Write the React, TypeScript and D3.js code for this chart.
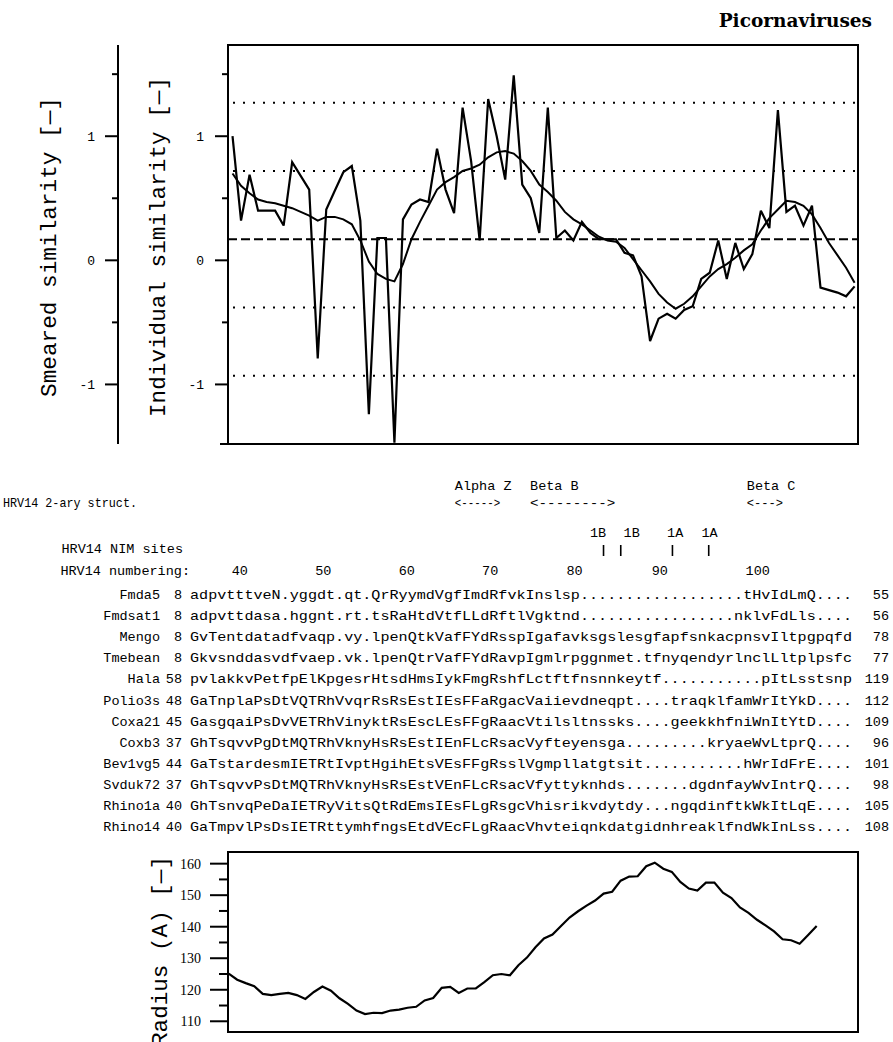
import React, { useEffect, useRef } from "react";
import * as d3 from "d3";

// individual similarity, one value per alignment position
const individual = [
  1.0, 0.32, 0.69, 0.4, 0.4, 0.4, 0.28, 0.79, 0.68, 0.57,
  -0.79, 0.41, 0.56, 0.71, 0.76, 0.32, -1.24, 0.18, 0.18, -1.47,
  0.33, 0.45, 0.49, 0.47, 0.9, 0.57, 0.38, 1.23, 0.8, 0.16,
  1.3, 1.0, 0.65, 1.49, 0.61, 0.5, 0.22, 1.23, 0.18, 0.24,
  0.16, 0.31, 0.22, 0.17, 0.17, 0.17, 0.06, 0.04, -0.13, -0.65,
  -0.47, -0.43, -0.47, -0.4, -0.37, -0.15, -0.1, 0.16, -0.15, 0.14,
  -0.07, 0.05, 0.4, 0.26, 1.21, 0.39, 0.44, 0.28, 0.44, -0.22,
  -0.24, -0.26, -0.29, -0.21,
];

// smeared similarity
const smeared = [
  0.7, 0.6, 0.54, 0.49, 0.47, 0.46, 0.44, 0.42, 0.39, 0.36,
  0.32, 0.35, 0.35, 0.33, 0.29, 0.16, -0.01, -0.11, -0.15, -0.17,
  -0.03, 0.17, 0.31, 0.44, 0.57, 0.63, 0.67, 0.72, 0.74, 0.77,
  0.83, 0.87, 0.88, 0.86, 0.8, 0.72, 0.61, 0.55, 0.48, 0.39,
  0.33, 0.29, 0.24, 0.19, 0.16, 0.15, 0.1, 0.01, -0.08, -0.17,
  -0.27, -0.34, -0.39, -0.35, -0.29, -0.21, -0.13, -0.07, -0.03, 0.02,
  0.08, 0.13, 0.24, 0.34, 0.41, 0.48, 0.47, 0.44, 0.37, 0.26,
  0.14, 0.04, -0.06, -0.18,
];

// radius (A), starts half a position before the similarity profile
const radius = [
  125.1, 123.2, 122.1, 121.1, 118.7, 118.3, 118.7, 119.0, 118.3, 117.1,
  119.3, 121.0, 119.7, 117.3, 115.5, 113.4, 112.3, 112.7, 112.6, 113.4,
  113.7, 114.3, 114.6, 116.6, 117.4, 120.6, 120.9, 119.0, 120.4, 120.4,
  122.4, 124.6, 125.0, 124.6, 127.8, 130.2, 133.5, 136.3, 137.5, 140.2,
  142.9, 144.9, 146.7, 148.3, 150.5, 151.1, 154.6, 155.9, 156.0, 159.2,
  160.3, 158.4, 157.4, 154.2, 152.1, 151.5, 154.0, 154.0, 150.8, 149.1,
  146.1, 144.4, 142.2, 140.4, 138.5, 136.0, 135.7, 134.6, 137.4, 140.2,
];
const radiusFirst = -0.45;

const simTicks = [-1, 0, 1];
const simMinor = [-0.5, 0.5, 1.5];
const simMean = 0.17;
const simBands = [1.27, 0.72, -0.38, -0.93, -1.48];
const radiusTicks = [110, 120, 130, 140, 150, 160];
const radiusMinor = [115, 125, 135, 145, 155];

const seqNames = ["Fmda5", "Fmdsat1", "Mengo", "Tmebean", "Hala", "Polio3s", "Coxa21", "Coxb3", "Bev1vg5", "Svduk72", "Rhino1a", "Rhino14"];
const seqStart = [8, 8, 8, 8, 58, 48, 45, 37, 44, 37, 40, 40];
const seqEnd = [55, 56, 78, 77, 119, 112, 109, 96, 101, 98, 105, 108];
const sequences = [
  "adpvtttveN.yggdt.qt.QrRyymdVgfImdRfvkInslsp" + ".".repeat(18) + "tHvIdLmQ....",
  "adpvttdasa.hggnt.rt.tsRaHtdVtfLLdRftlVgktnd" + ".".repeat(17) + "nklvFdLls....",
  "GvTentdatadfvaqp.vy.lpenQtkVafFYdRsspIgafavksgslesgfapfsnkacpnsvIltpgpqfd",
  "Gkvsnddasvdfvaep.vk.lpenQtrVafFYdRavpIgmlrpggnmet.tfnyqendyrlnclLltplpsfc",
  "pvlakkvPetfpElKpgesrHtsdHmsIykFmgRshfLctftfnsnnkeytf" + ".".repeat(11) + "pItLsstsnp",
  "GaTnplaPsDtVQTRhVvqrRsRsEstIEsFFaRgacVaiievdneqpt....traqklfamWrItYkD....",
  "GasgqaiPsDvVETRhVinyktRsEscLEsFFgRaacVtilsltnssks....geekkhfniWnItYtD....",
  "GhTsqvvPgDtMQTRhVknyHsRsEstIEnFLcRsacVyfteyensga" + ".".repeat(9) + "kryaeWvLtprQ....",
  "GaTstardesmIETRtIvptHgihEtsVEsFFgRsslVgmpllatgtsit" + ".".repeat(11) + "hWrIdFrE....",
  "GhTsqvvPsDtMQTRhVknyHsRsEstVEnFLcRsacVfyttyknhds" + ".".repeat(7) + "dgdnfayWvIntrQ....",
  "GhTsnvqPeDaIETRyVitsQtRdEmsIEsFLgRsgcVhisrikvdytdy...ngqdinftkWkItLqE....",
  "GaTmpvlPsDsIETRttymhfngsEtdVEcFLgRaacVhvteiqnkdatgidnhreaklfndWkInLss....",
];

const numbering = [40, 50, 60, 70, 80, 90, 100];
const numberingCols = [5.5, 14.7, 23.9, 33.1, 42.4, 51.8, 62.6];

const structLabels = ["Alpha Z", "Beta B", "Beta C"];
const structArrows = ["<----->", "<-------->", "<--->"];
const structCols = [29.2, 37.5, 61.4];
const structLen = [5, 9.4, 4];

const nimLabels = ["1B", "1B", "1A", "1A"];
const nimLabelCols = [45.0, 48.7, 53.5, 57.3];
const nimSiteCols = [45.6, 47.5, 53.2, 57.2];

const mono = "'Liberation Mono', 'DejaVu Sans Mono', monospace";

export default function App() {
  const ref = useRef<SVGSVGElement>(null);

  useEffect(() => {
    const svg = d3.select(ref.current);
    svg.selectAll("*").remove();

    svg.append("rect").attr("width", 893).attr("height", 1042).attr("fill", "#fff");

    svg.append("text")
      .attr("x", 872).attr("y", 27).attr("text-anchor", "end")
      .attr("font-family", "'DejaVu Serif', serif").attr("font-weight", "bold")
      .attr("font-size", 18.5).text("Picornaviruses");

    // ---- similarity chart
    const top = { left: 228, right: 858, top: 45, bottom: 444 };
    const x = d3.scaleLinear().domain([-0.53, 73.4]).range([top.left, top.right]);
    const y = d3.scaleLinear().domain([-1.48, 1.735]).range([top.bottom, top.top]);

    svg.append("clipPath").attr("id", "clipTop").append("rect")
      .attr("x", top.left).attr("y", top.top - 2)
      .attr("width", top.right - top.left).attr("height", top.bottom - top.top + 4);

    const g = svg.append("g");

    g.selectAll("line.band").data(simBands).join("line")
      .attr("class", "band")
      .attr("x1", top.left + 5).attr("x2", top.right - 3)
      .attr("y1", (d) => y(d)).attr("y2", (d) => y(d))
      .attr("stroke", "#000").attr("stroke-width", 2).attr("stroke-dasharray", "2 8");

    g.append("line")
      .attr("x1", top.left).attr("x2", top.right)
      .attr("y1", y(simMean)).attr("y2", y(simMean))
      .attr("stroke", "#000").attr("stroke-width", 2).attr("stroke-dasharray", "9 4");

    const line = d3.line<number>().x((d, i) => x(i)).y((d) => y(d));

    g.append("path").datum(smeared).attr("d", line)
      .attr("clip-path", "url(#clipTop)")
      .attr("fill", "none").attr("stroke", "#000").attr("stroke-width", 2);

    g.append("path").datum(individual).attr("d", line)
      .attr("clip-path", "url(#clipTop)")
      .attr("fill", "none").attr("stroke", "#000").attr("stroke-width", 2.2)
      .attr("stroke-linejoin", "miter").attr("stroke-miterlimit", 3);

    g.append("rect")
      .attr("x", top.left).attr("y", top.top)
      .attr("width", top.right - top.left).attr("height", top.bottom - top.top)
      .attr("fill", "none").attr("stroke", "#000").attr("stroke-width", 2);
    g.append("line").attr("x1", top.left - 8).attr("x2", top.left)
      .attr("y1", top.bottom).attr("y2", top.bottom).attr("stroke", "#000").attr("stroke-width", 2);

    // inner axis (individual) and outer axis (smeared)
    const axes = [
      { at: top.left, len: 13, labelX: 204 },
      { at: 118, len: 13, labelX: 95 },
    ];
    axes.forEach((a) => {
      if (a.at !== top.left) {
        g.append("line").attr("x1", a.at).attr("x2", a.at)
          .attr("y1", top.top).attr("y2", top.bottom)
          .attr("stroke", "#000").attr("stroke-width", 2);
      }
      g.selectAll(null).data(simTicks).join("line")
        .attr("x1", a.at - a.len).attr("x2", a.at)
        .attr("y1", (d) => y(d)).attr("y2", (d) => y(d))
        .attr("stroke", "#000").attr("stroke-width", 2);
      g.selectAll(null).data(simMinor).join("line")
        .attr("x1", a.at - 6).attr("x2", a.at)
        .attr("y1", (d) => y(d)).attr("y2", (d) => y(d))
        .attr("stroke", "#000").attr("stroke-width", 2);
      g.selectAll(null).data(simTicks).join("text")
        .attr("x", a.labelX).attr("y", (d) => y(d) + 5)
        .attr("text-anchor", "end").attr("font-family", mono).attr("font-size", 13)
        .text((d) => (d < 0 ? "-" + Math.abs(d) : String(d)));
    });

    const axisTitle = (cx: number, cy: number, len: number, s: string) =>
      svg.append("text")
        .attr("transform", `translate(${cx},${cy}) rotate(-90)`)
        .attr("text-anchor", "middle").attr("font-family", mono).attr("font-size", 22)
        .attr("textLength", len).attr("lengthAdjust", "spacingAndGlyphs")
        .text(s);
    axisTitle(56, 247, 300, "Smeared similarity [\u2014]");
    axisTitle(165, 247, 340, "Individual similarity [\u2014]");

    // ---- alignment block
    const col = d3.scaleLinear().domain([0, 73]).range([190, 852]);
    const t = svg.append("g").attr("font-family", mono).attr("fill", "#000");

    t.selectAll(null).data(structLabels).join("text")
      .attr("x", (d, i) => col(structCols[i])).attr("y", 490)
      .attr("font-size", 13.5).text((d) => d);
    t.selectAll(null).data(structArrows).join("text")
      .attr("x", (d, i) => col(structCols[i])).attr("y", 507)
      .attr("font-size", 13).attr("textLength", (d, i) => col(structLen[i]) - col(0))
      .attr("lengthAdjust", "spacingAndGlyphs").text((d) => d);
    t.append("text").attr("x", 3).attr("y", 507).attr("font-size", 13.5)
      .attr("textLength", 134).attr("lengthAdjust", "spacingAndGlyphs").text("HRV14 2-ary struct.");

    t.selectAll(null).data(nimLabels).join("text")
      .attr("x", (d, i) => col(nimLabelCols[i])).attr("y", 537)
      .attr("text-anchor", "middle").attr("font-size", 13.5).text((d) => d);
    t.selectAll(null).data(nimSiteCols).join("line")
      .attr("x1", (d) => col(d)).attr("x2", (d) => col(d))
      .attr("y1", 545).attr("y2", 556).attr("stroke", "#000").attr("stroke-width", 1.6);
    t.append("text").attr("x", 183).attr("y", 553).attr("text-anchor", "end")
      .attr("font-size", 13.5).text("HRV14 NIM sites");

    t.append("text").attr("x", 190).attr("y", 575).attr("text-anchor", "end")
      .attr("font-size", 13.5).text("HRV14 numbering:");
    t.selectAll(null).data(numbering).join("text")
      .attr("x", (d, i) => col(numberingCols[i])).attr("y", 575)
      .attr("text-anchor", "middle").attr("font-size", 13.5).text((d) => d);

    const rowY = (i: number) => 599 + i * 21.1;
    const rows = t.selectAll("g.row").data(sequences).join("g").attr("class", "row")
      .attr("font-size", 13.5);
    rows.append("text").attr("x", 160).attr("y", (d, i) => rowY(i))
      .attr("text-anchor", "end").text((d, i) => seqNames[i]);
    rows.append("text").attr("x", 182).attr("y", (d, i) => rowY(i))
      .attr("text-anchor", "end").text((d, i) => seqStart[i]);
    rows.append("text").attr("x", col(0)).attr("y", (d, i) => rowY(i))
      .attr("textLength", col(73) - col(0)).attr("lengthAdjust", "spacingAndGlyphs")
      .attr("xml:space", "preserve").text((d) => d);
    rows.append("text").attr("x", 889).attr("y", (d, i) => rowY(i))
      .attr("text-anchor", "end").text((d, i) => seqEnd[i]);

    // ---- radius chart
    const bot = { left: 228, right: 858, top: 852, bottom: 1032 };
    const yr = d3.scaleLinear().domain([106.6, 163.7]).range([bot.bottom, bot.top]);
    const b = svg.append("g");

    b.append("path").datum(radius)
      .attr("d", d3.line<number>().x((d, i) => x(radiusFirst + i)).y((d) => yr(d)))
      .attr("fill", "none").attr("stroke", "#000").attr("stroke-width", 2.2);

    b.append("rect")
      .attr("x", bot.left).attr("y", bot.top)
      .attr("width", bot.right - bot.left).attr("height", bot.bottom - bot.top)
      .attr("fill", "none").attr("stroke", "#000").attr("stroke-width", 2);

    b.selectAll(null).data(radiusTicks).join("line")
      .attr("x1", bot.left - 18).attr("x2", bot.left)
      .attr("y1", (d) => yr(d)).attr("y2", (d) => yr(d))
      .attr("stroke", "#000").attr("stroke-width", 2);
    b.selectAll(null).data(radiusMinor).join("line")
      .attr("x1", bot.left - 9).attr("x2", bot.left)
      .attr("y1", (d) => yr(d)).attr("y2", (d) => yr(d))
      .attr("stroke", "#000").attr("stroke-width", 2);
    b.selectAll(null).data(radiusTicks).join("text")
      .attr("x", 201).attr("y", (d) => yr(d) + 5)
      .attr("text-anchor", "end").attr("font-family", "'Liberation Serif', serif")
      .attr("font-size", 14).text((d) => d);

    svg.append("text")
      .attr("transform", `translate(167,1046) rotate(-90)`)
      .attr("font-family", mono).attr("font-size", 22)
      .attr("textLength", 190).attr("lengthAdjust", "spacingAndGlyphs")
      .text("Radius (A) [\u2014]");
  }, []);

  return (
    <svg
      ref={ref}
      width={893}
      height={1042}
      style={{ position: "absolute", left: 0, top: 0, display: "block" }}
    />
  );
}
